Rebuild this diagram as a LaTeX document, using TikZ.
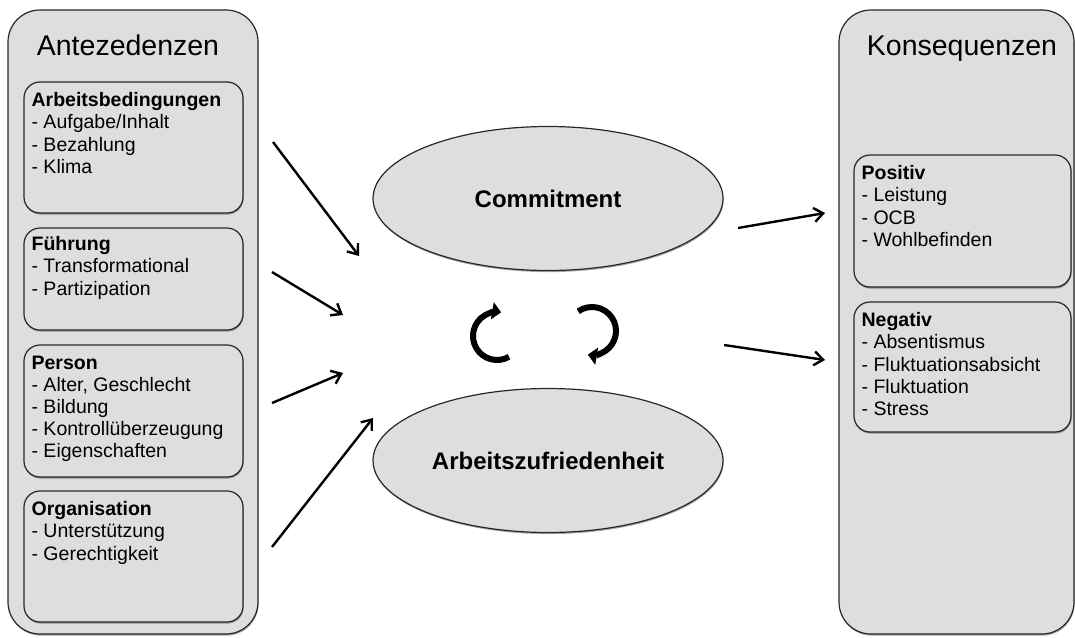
\documentclass[tikz,border=0pt]{standalone}
\usepackage{fontspec}
\setmainfont{Liberation Sans}
\usetikzlibrary{shapes.geometric,arrows.meta,shadows,calc}
\definecolor{boxgray}{RGB}{222,222,222}
\definecolor{edge}{RGB}{40,40,40}

\begin{document}
\begin{tikzpicture}[x=1pt,y=-1pt,
  boxshadow/.style={drop shadow={shadow xshift=0.6pt,shadow yshift=-1.6pt,opacity=0.35,fill=black}},
  panel/.style={draw=edge,line width=1.2pt,fill=boxgray,rounded corners=32pt,inner sep=0pt,boxshadow},
  itembox/.style={draw=edge,line width=1.2pt,fill=boxgray,rounded corners=16pt,inner sep=0pt,boxshadow},
  itemtext/.style={anchor=north west,inner sep=0pt,align=left,font=\fontsize{19.5}{22.2}\selectfont},
  paneltitle/.style={anchor=base,inner sep=0pt,font=\fontsize{28.5}{32}\selectfont},
  construct/.style={ellipse,draw=edge,line width=1.2pt,fill=boxgray,inner sep=0pt,
    minimum width=350pt,minimum height=144pt,boxshadow,font=\fontsize{24}{28}\selectfont\bfseries},
  flow/.style={line width=2.4pt,-{Straight Barb[length=9pt,width=14pt]}},
  cyclearrow/.style={line width=6pt,-{Triangle[length=9pt,width=17pt]}}
]
% canvas
\fill[white] (0,0) rectangle (1075,637);
\useasboundingbox (0,0) rectangle (1075,637);

% antecedents panel
\node[panel,minimum width=250pt,minimum height=624pt] (ante) at (133,322) {};
\node[paneltitle] (anteT) at (128,55) {Antezedenzen};

\node[itembox,minimum width=219pt,minimum height=131pt] (ab) at (133.5,147.5) {};
\node[itemtext] (abT) at ($(ab.north west)+(8,11)$)
  {\textbf{Arbeitsbedingungen}\\- Aufgabe/Inhalt\\- Bezahlung\\- Klima};

\node[itembox,minimum width=219pt,minimum height=102pt] (fu) at (133.5,279) {};
\node[itemtext] (fuT) at ($(fu.north west)+(8,9)$)
  {\textbf{Führung}\\- Transformational\\- Partizipation};

\node[itembox,minimum width=219pt,minimum height=132pt] (pe) at (133.5,411) {};
\node[itemtext] (peT) at ($(pe.north west)+(8,11)$)
  {\textbf{Person}\\- Alter, Geschlecht\\- Bildung\\- Kontrollüberzeugung\\- Eigenschaften};

\node[itembox,minimum width=219pt,minimum height=131pt] (or) at (133.5,556.5) {};
\node[itemtext] (orT) at ($(or.north west)+(8,11)$)
  {\textbf{Organisation}\\- Unterstützung\\- Gerechtigkeit};

% consequences panel
\node[panel,minimum width=235pt,minimum height=624pt] (kons) at (956.5,322) {};
\node[paneltitle] (konsT) at (962,55) {Konsequenzen};

\node[itembox,minimum width=217pt,minimum height=132pt] (pos) at (962.5,221) {};
\node[itemtext] (posT) at ($(pos.north west)+(8,11)$)
  {\textbf{Positiv}\\- Leistung\\- OCB\\- Wohlbefinden};

\node[itembox,minimum width=217pt,minimum height=130pt] (neg) at (962.5,367) {};
\node[itemtext] (negT) at ($(neg.north west)+(8,11)$)
  {\textbf{Negativ}\\- Absentismus\\- Fluktuationsabsicht\\- Fluktuation\\- Stress};

% central constructs
\node[construct] (com) at (548,198.5) {Commitment};
\node[construct] (az) at (548,460.5) {Arbeitszufriedenheit};

% arrow end points
\coordinate (a1s) at (273,142); \coordinate (a1e) at (359,256);
\coordinate (a2s) at (272,272); \coordinate (a2e) at (343,315);
\coordinate (a3s) at (272,403); \coordinate (a3e) at (343,373);
\coordinate (a4s) at (272,547); \coordinate (a4e) at (373,418);
\coordinate (c1s) at (738,228); \coordinate (c1e) at (825,213);
\coordinate (c2s) at (724,345); \coordinate (c2e) at (825,360);

\draw[flow] (a1s) -- (a1e);
\draw[flow] (a2s) -- (a2e);
\draw[flow] (a3s) -- (a3e);
\draw[flow] (a4s) -- (a4e);
\draw[flow] (c1s) -- (c1e);
\draw[flow] (c2s) -- (c2e);

% mutual influence arrows
\coordinate (cycL) at (497,336);
\coordinate (cycR) at (592,331);
\draw[cyclearrow] (cycL) ++(60:24) arc[start angle=60,end angle=280,radius=24];
\draw[cyclearrow] (cycR) ++(235:24) arc[start angle=235,end angle=460,radius=24];
\end{tikzpicture}
\end{document}
